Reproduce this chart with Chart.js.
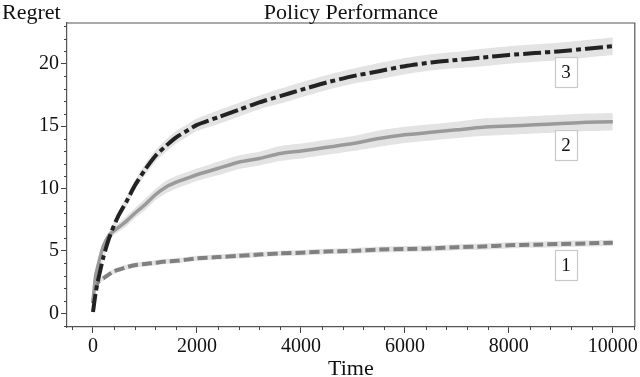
<!DOCTYPE html>
<html>
<head>
<meta charset="utf-8">
<script src="https://cdn.jsdelivr.net/npm/chart.js@4/dist/chart.umd.min.js"></script>
<style>
html,body{margin:0;padding:0;background:#fff;}
#wrap{width:640px;height:377px;position:relative;}
</style>
</head>
<body>
<div id="wrap"><canvas id="c" width="640" height="377"></canvas></div>
<script>
// ---- data ----
const times = [0,50,100,200,300,400,500,650,800,1000,1200,1400,1600,1800,2000,2400,2800,3200,3600,4000,4500,5000,5500,6000,6500,7000,7500,8000,8500,9000,9500,10000];
const policy3 = [0.1,1.6,2.7,4.5,5.9,7.0,7.9,9.0,10.2,11.5,12.6,13.4,14.1,14.6,15.1,15.7,16.3,16.9,17.4,17.9,18.5,19.0,19.4,19.8,20.1,20.3,20.5,20.7,20.85,21.0,21.2,21.4];
const policy2 = [1.0,3.0,3.9,5.4,6.2,6.6,6.9,7.4,8.0,8.7,9.5,10.1,10.5,10.8,11.1,11.6,12.1,12.4,12.8,13.0,13.3,13.6,14.0,14.3,14.5,14.7,14.9,15.0,15.1,15.2,15.3,15.35];
const policy1 = [0.8,2.0,2.5,2.8,3.1,3.35,3.5,3.7,3.85,3.95,4.05,4.15,4.2,4.3,4.4,4.5,4.6,4.7,4.8,4.85,4.95,5.0,5.1,5.15,5.2,5.3,5.35,5.45,5.5,5.55,5.6,5.65];
const band3 = [0.1,0.2,0.25,0.3,0.3,0.35,0.35,0.4,0.4,0.45,0.45,0.5,0.5,0.5,0.5,0.55,0.55,0.55,0.6,0.6,0.6,0.6,0.65,0.65,0.65,0.65,0.7,0.7,0.7,0.7,0.7,0.7];
const band2 = [0.1,0.2,0.25,0.3,0.3,0.35,0.35,0.4,0.4,0.45,0.45,0.5,0.5,0.5,0.5,0.55,0.55,0.55,0.6,0.6,0.6,0.6,0.65,0.65,0.65,0.65,0.7,0.7,0.7,0.7,0.7,0.7];
const band1 = [0.15,0.2,0.2,0.2,0.2,0.2,0.2,0.2,0.2,0.2,0.2,0.2,0.2,0.2,0.2,0.2,0.22,0.22,0.22,0.22,0.22,0.24,0.24,0.24,0.24,0.24,0.25,0.25,0.25,0.25,0.25,0.25];
const xTickValues = [0,2000,4000,6000,8000,10000];
const yTickValues = [0,5,10,15,20];
const labelNames = ['3','2','1'];
const labelX = [9100,9100,9100];
const labelY = [19.3,13.5,3.9];
const titleText = 'Policy Performance';
const xTitle = 'Time';
const yTitle = 'Regret';

// ---- build ----
const SERIF = '"Liberation Serif","DejaVu Serif",serif';
const BAND = '#e3e3e3';
function pts(vals, off, sign){ return times.map((t,i)=>({x:t, y: vals[i] + (off? sign*off[i] : 0)})); }
function bandPair(vals, off){
  return [
    {data: pts(vals, off, 1), borderWidth:0, pointRadius:0, fill:'+1', backgroundColor:BAND, borderColor:'transparent', order:10},
    {data: pts(vals, off, -1), borderWidth:0, pointRadius:0, fill:false, borderColor:'transparent', order:10}
  ];
}
const datasets = [
  ...bandPair(policy3, band3),
  ...bandPair(policy2, band2),
  ...bandPair(policy1, band1),
  {label:'1', data: pts(policy1), borderColor:'#808080', borderWidth:4, borderDash:[10,4], pointRadius:0, fill:false, order:3},
  {label:'2', data: pts(policy2), borderColor:'#9a9a9a', borderWidth:3.5, pointRadius:0, fill:false, order:2},
  {label:'3', data: pts(policy3), borderColor:'#222222', borderWidth:4, borderDash:[18,4,5,4], pointRadius:0, fill:false, order:1}
];

const decor = {
  id:'decor',
  afterDraw(chart){
    const ctx = chart.ctx, a = chart.chartArea, xs = chart.scales.x, ys = chart.scales.y;
    ctx.save();
    // frame top/right
    ctx.strokeStyle = '#555'; ctx.lineWidth = 1.2;
    ctx.beginPath();
    ctx.moveTo(a.left, a.top); ctx.lineTo(a.right, a.top); ctx.lineTo(a.right, a.bottom);
    ctx.stroke();
    // minor ticks
    ctx.strokeStyle = '#444'; ctx.lineWidth = 1;
    ctx.beginPath();
    for (let v = -1; v <= 23; v++) {
      if (v % 5 === 0) continue;
      const y = Math.round(ys.getPixelForValue(v)) + 0.5;
      if (y < a.top || y > a.bottom) continue;
      ctx.moveTo(a.left - 3, y); ctx.lineTo(a.left, y);
    }
    for (let v = -400; v <= 10400; v += 400) {
      if (v % 2000 === 0) continue;
      const x = Math.round(xs.getPixelForValue(v)) + 0.5;
      if (x < a.left || x > a.right) continue;
      ctx.moveTo(x, a.bottom); ctx.lineTo(x, a.bottom + 3);
    }
    ctx.stroke();
    // titles
    ctx.fillStyle = '#111';
    ctx.font = '22px ' + SERIF;
    ctx.textBaseline = 'alphabetic';
    ctx.textAlign = 'center';
    ctx.fillText(titleText, (a.left + a.right) / 2, 19);
    ctx.fillText(xTitle, (a.left + a.right) / 2, 375);
    ctx.textAlign = 'left';
    ctx.fillText(yTitle, 2, 19);
    // series labels
    ctx.font = '19px ' + SERIF;
    ctx.textAlign = 'center'; ctx.textBaseline = 'middle';
    for (let i = 0; i < labelNames.length; i++) {
      const cx = xs.getPixelForValue(labelX[i]), cy = ys.getPixelForValue(labelY[i]);
      ctx.fillStyle = '#fff';
      ctx.fillRect(cx - 11, cy - 15, 22, 30);
      ctx.strokeStyle = '#c8c8c8'; ctx.lineWidth = 1.2;
      ctx.strokeRect(Math.round(cx - 11) + 0.5, Math.round(cy - 15) + 0.5, 22, 30);
      ctx.fillStyle = '#111';
      ctx.fillText(labelNames[i], cx, cy + 1);
    }
    ctx.restore();
  }
};

new Chart(document.getElementById('c'), {
  type: 'line',
  data: { datasets },
  options: {
    responsive: false,
    animation: false,
    devicePixelRatio: 1,
    layout: { padding: { top: 23, right: 5, left: 0, bottom: 0 } },
    plugins: { legend: { display: false }, title: { display: false }, tooltip: { enabled: false } },
    elements: { line: { tension: 0.2 } },
    scales: {
      x: {
        type: 'linear', min: -500, max: 10423,
        afterBuildTicks: s => { s.ticks = xTickValues.map(v => ({ value: v })); },
        afterFit: s => { s.height = 50; },
        grid: { drawOnChartArea: false, drawTicks: true, tickLength: 6, color: '#444', lineWidth: 1 },
        border: { display: true, color: '#555', width: 1.2 },
        ticks: { color: '#111', font: { family: SERIF, size: 20 }, padding: 2, maxRotation: 0, autoSkip: false, callback: v => String(v) }
      },
      y: {
        type: 'linear', min: -1.1, max: 23.26,
        afterBuildTicks: s => { s.ticks = yTickValues.map(v => ({ value: v })); },
        afterFit: s => { s.width = 67; },
        grid: { drawOnChartArea: false, drawTicks: true, tickLength: 6, color: '#444', lineWidth: 1 },
        border: { display: true, color: '#555', width: 1.2 },
        ticks: { color: '#111', font: { family: SERIF, size: 20 }, padding: 2, callback: v => String(v) }
      }
    }
  },
  plugins: [decor]
});
</script>
</body>
</html>
